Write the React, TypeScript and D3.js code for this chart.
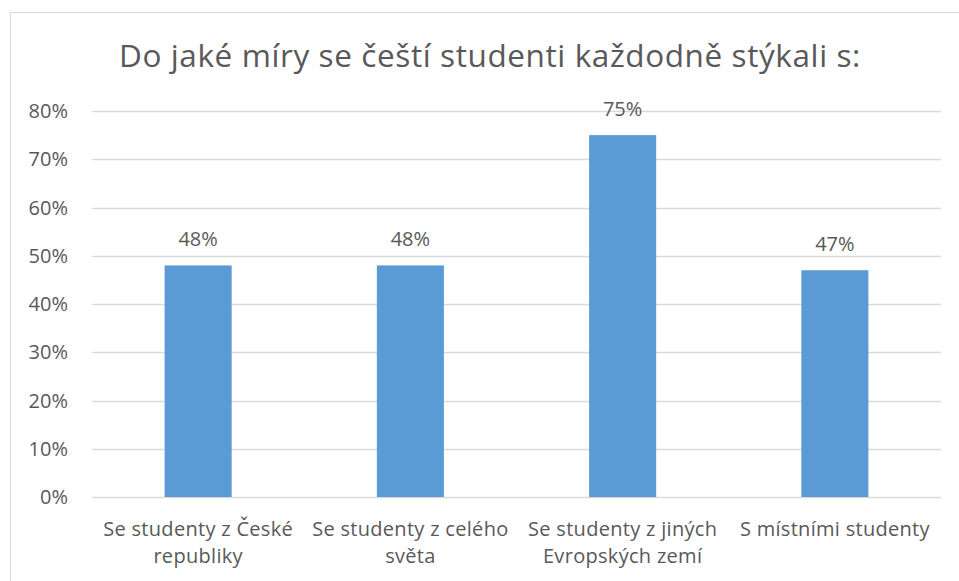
import React, { useEffect, useRef } from "react";
import * as d3 from "d3";

const categories = [
  "Se studenty z České republiky",
  "Se studenty z celého světa",
  "Se studenty z jiných Evropských zemí",
  "S místními studenty",
];
const values = [0.48, 0.48, 0.75, 0.47];
const yTicks = [0, 0.1, 0.2, 0.3, 0.4, 0.5, 0.6, 0.7, 0.8];
const title = "Do jaké míry se čeští studenti každodně stýkali s:";

const W = 959;
const H = 581;
const FONT = "'Open Sans', 'Segoe UI', sans-serif";
const TEXT = "#595959";

export default function App() {
  const ref = useRef<SVGSVGElement>(null);

  useEffect(() => {
    const svg = d3.select(ref.current);
    svg.selectAll("*").remove();

    const left = 92, right = 941, top = 111, bottom = 497;

    svg.append("rect")
      .attr("x", 10.5).attr("y", 12.5)
      .attr("width", W + 20).attr("height", H + 20)
      .attr("fill", "#fff").attr("stroke", "#d9d9d9").attr("stroke-width", 1);

    svg.append("text")
      .attr("x", 490).attr("y", 67)
      .attr("text-anchor", "middle")
      .attr("font-family", FONT).attr("font-size", 31.5)
      .attr("letter-spacing", 0.6)
      .attr("fill", TEXT)
      .text(title);

    const x = d3.scaleBand<string>()
      .domain(categories)
      .range([left, right])
      .paddingInner(0.684)
      .paddingOuter(0.342);
    const y = d3.scaleLinear().domain([0, 0.8]).range([bottom, top]);

    const grid = svg.append("g");
    yTicks.forEach((t) => {
      const yy = Math.round(y(t)) + 0.5;
      grid.append("line")
        .attr("x1", left).attr("x2", right)
        .attr("y1", yy).attr("y2", yy)
        .attr("stroke", "#d9d9d9").attr("stroke-width", 1.3);
      grid.append("text")
        .attr("x", 68).attr("y", y(t) + 7)
        .attr("text-anchor", "end")
        .attr("font-family", FONT).attr("font-size", 20)
        .attr("fill", TEXT)
        .text(d3.format(".0%")(t));
    });

    svg.append("g").selectAll("rect")
      .data(values)
      .join("rect")
      .attr("x", (_, i) => x(categories[i])!)
      .attr("width", x.bandwidth())
      .attr("y", (d) => y(d))
      .attr("height", (d) => bottom - y(d))
      .attr("fill", "#5b9bd5");

    svg.append("g").selectAll("text")
      .data(values)
      .join("text")
      .attr("x", (_, i) => x(categories[i])! + x.bandwidth() / 2)
      .attr("y", (d) => y(d) - 19)
      .attr("text-anchor", "middle")
      .attr("font-family", FONT).attr("font-size", 20)
      .attr("fill", TEXT)
      .text((d) => d3.format(".0%")(d));

    const maxW = x.step() - 4;
    categories.forEach((c) => {
      const cx = x(c)! + x.bandwidth() / 2;
      const t = svg.append("text")
        .attr("text-anchor", "middle")
        .attr("font-family", FONT).attr("font-size", 20)
        .attr("letter-spacing", 0.3)
        .attr("fill", TEXT);
      const words = c.split(" ");
      const lines: string[] = [];
      let cur = "";
      const probe = t.append("tspan");
      words.forEach((w) => {
        const test = cur ? cur + " " + w : w;
        probe.text(test);
        if ((probe.node() as SVGTSpanElement).getComputedTextLength() > maxW && cur) {
          lines.push(cur);
          cur = w;
        } else {
          cur = test;
        }
      });
      lines.push(cur);
      probe.remove();
      lines.forEach((ln, i) => {
        t.append("tspan")
          .attr("x", cx)
          .attr("y", 536 + i * 27)
          .text(ln);
      });
    });
  }, []);

  return (
    <svg
      ref={ref}
      width={W}
      height={H}
      style={{ position: "absolute", left: 0, top: 0, background: "#fff" }}
    />
  );
}
